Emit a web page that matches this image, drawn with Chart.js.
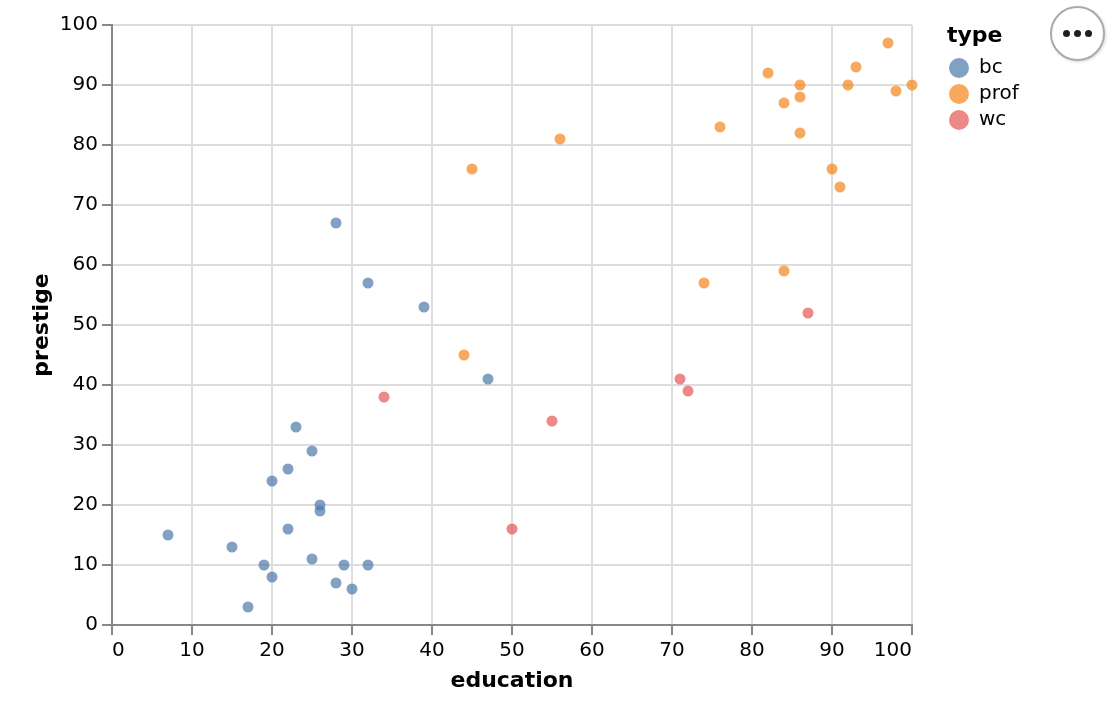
<!DOCTYPE html>
<html>
<head>
<meta charset="utf-8">
<script src="https://cdn.jsdelivr.net/npm/chart.js@4/dist/chart.umd.min.js"></script>
<style>
  body { margin: 0; background: #fff; }
  #wrap { position: relative; width: 1114px; height: 702px; }
  #actions {
    position: absolute; left: 1050px; top: 6px; width: 51px; height: 51px;
    border: 2px solid #aaa; border-radius: 50%; background: #fff;
    box-shadow: 1px 1px 3px rgba(0,0,0,0.15);
    display: flex; align-items: center; justify-content: center; gap: 4px;
  }
  #actions span { width: 7px; height: 7px; border-radius: 50%; background: #1b1e23; }
</style>
</head>
<body>
<div id="wrap">
  <canvas id="chart" width="1114" height="702"></canvas>
  <div id="actions"><span></span><span></span><span></span></div>
</div>
<script>
// categories
const types = ['bc', 'prof', 'wc'];
const typeColors = ['rgba(76,120,168,0.7)', 'rgba(245,133,24,0.7)', 'rgba(228,87,86,0.7)'];

// bc
const bcEducation = [28, 32, 39, 47, 23, 25, 22, 20, 26, 26, 22, 7, 15, 25, 19, 29, 32, 20, 28, 30, 17];
const bcPrestige  = [67, 57, 53, 41, 33, 29, 26, 24, 20, 19, 16, 15, 13, 11, 10, 10, 10, 8, 7, 6, 3];

// prof
const profEducation = [97, 93, 82, 86, 100, 92, 98, 86, 84, 76, 86, 56, 45, 90, 91, 84, 74, 44];
const profPrestige  = [97, 93, 92, 90, 90, 90, 89, 88, 87, 83, 82, 81, 76, 76, 73, 59, 57, 45];

// wc
const wcEducation = [87, 71, 72, 34, 55, 50];
const wcPrestige  = [52, 41, 39, 38, 34, 16];

const seriesX = [bcEducation, profEducation, wcEducation];
const seriesY = [bcPrestige, profPrestige, wcPrestige];

const FONT = "'DejaVu Sans', sans-serif";

const datasets = types.map((t, i) => ({
  label: t,
  data: seriesX[i].map((x, j) => ({ x: x, y: seriesY[i][j] })),
  backgroundColor: typeColors[i],
  borderWidth: 0,
  pointRadius: 5.5,
  pointHoverRadius: 5.5,
  clip: false
}));

// 범례 (vega 스타일)
const legendPlugin = {
  id: 'typeLegend',
  afterDraw(chart) {
    const ctx = chart.ctx;
    ctx.save();
    ctx.fillStyle = '#000';
    ctx.textBaseline = 'middle';
    ctx.textAlign = 'left';
    ctx.font = 'bold 22px ' + FONT;
    ctx.fillText('type', 947, 36);
    ctx.font = '20px ' + FONT;
    types.forEach((t, i) => {
      const y = 68 + i * 26;
      ctx.beginPath();
      ctx.arc(959, y, 10, 0, Math.PI * 2);
      ctx.fillStyle = typeColors[i];
      ctx.fill();
      ctx.fillStyle = '#000';
      ctx.fillText(t, 979, y);
    });
    ctx.restore();
  }
};

const axisGrid = { color: '#ddd', lineWidth: 2, tickLength: 10, tickColor: '#888' };

new Chart(document.getElementById('chart').getContext('2d'), {
  type: 'scatter',
  data: { datasets: datasets },
  options: {
    responsive: false,
    animation: false,
    events: [],
    layout: { padding: { top: 25, right: 202, left: 0, bottom: 0 } },
    plugins: { legend: { display: false }, tooltip: { enabled: false } },
    scales: {
      x: {
        type: 'linear', min: 0, max: 100,
        ticks: { stepSize: 10, align: 'inner', padding: 4, color: '#000', font: { family: FONT, size: 20 } },
        grid: axisGrid,
        border: { color: '#888', width: 2 },
        title: { display: true, text: 'education', color: '#000', font: { family: FONT, size: 22, weight: 'bold' }, padding: { top: 0, bottom: 8 } },
        afterFit: s => { s.height = 77; }
      },
      y: {
        type: 'linear', min: 0, max: 100,
        ticks: { stepSize: 10, padding: 4, color: '#000', font: { family: FONT, size: 20 } },
        grid: axisGrid,
        border: { color: '#888', width: 2 },
        title: { display: true, text: 'prestige', color: '#000', font: { family: FONT, size: 22, weight: 'bold' }, padding: { top: 29, bottom: 0 } },
        afterFit: s => { s.width = 112; }
      }
    }
  },
  plugins: [legendPlugin]
});
</script>
</body>
</html>
